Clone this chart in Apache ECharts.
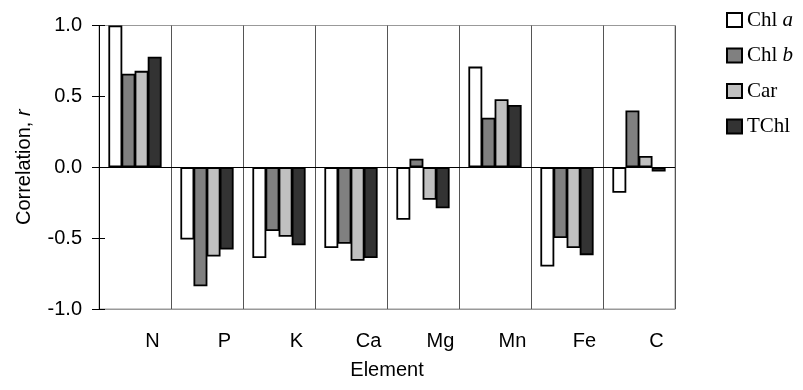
<!DOCTYPE html>
<html>
<head>
<meta charset="utf-8">
<script src="https://cdn.jsdelivr.net/npm/echarts@6/dist/echarts.min.js"></script>
<style>html,body{margin:0;padding:0;background:#fff;}#c{width:803px;height:390px;}</style>
</head>
<body>
<div id="c"></div>
<script>
const categories = ['N', 'P', 'K', 'Ca', 'Mg', 'Mn', 'Fe', 'C'];
const chlA = [1.00, -0.51, -0.64, -0.57, -0.37, 0.71, -0.70, -0.18];
const chlB = [0.66, -0.84, -0.45, -0.54, 0.06, 0.35, -0.50, 0.40];
const car  = [0.68, -0.63, -0.49, -0.66, -0.23, 0.48, -0.57, 0.08];
const tchl = [0.78, -0.58, -0.55, -0.64, -0.29, 0.44, -0.62, -0.03];
const yTicks = [-1.0, -0.5, 0.0, 0.5, 1.0];

const sans = 'Liberation Sans, Arial, sans-serif';
const serif = 'Liberation Serif, Times New Roman, serif';

const names = ['Chl a', 'Chl b', 'Car', 'TChl'];
const fills = ['#ffffff', '#808080', '#c0c0c0', '#333333'];
const dataSets = [chlA, chlB, car, tchl];

const chart = echarts.init(document.getElementById('c'), null, {renderer: 'canvas'});

const series = dataSets.map((d, i) => ({
  name: names[i],
  type: 'bar',
  data: d,
  barGap: '-6%',
  barCategoryGap: '26%',
  itemStyle: {color: fills[i], borderColor: '#000', borderWidth: 1.8},
  emphasis: {disabled: true},
  z: 3
}));
series[0].markLine = {
  silent: true,
  symbol: 'none',
  label: {show: false},
  lineStyle: {color: '#000', width: 1, type: 'solid'},
  data: [{yAxis: 0}],
  z: 5
};

chart.setOption({
  animation: false,
  backgroundColor: '#fff',
  grid: {left: 99, right: 128, top: 25.5, bottom: 81, show: true, borderColor: '#999', borderWidth: 1, backgroundColor: 'transparent'},
  legend: {
    orient: 'vertical',
    left: 726,
    top: 9,
    padding: 0,
    icon: 'rect',
    itemWidth: 15,
    itemHeight: 14,
    itemGap: 13.5,
    textStyle: {
      fontFamily: serif, fontSize: 21, color: '#000', lineHeight: 22,
      rich: {
        n: {fontFamily: serif, fontSize: 21, color: '#000'},
        i: {fontFamily: serif, fontSize: 21, fontStyle: 'italic', color: '#000'}
      }
    },
    formatter: function (name) {
      if (name === 'Chl a') return '{n|Chl }{i|a}';
      if (name === 'Chl b') return '{n|Chl }{i|b}';
      return '{n|' + name + '}';
    },
    data: names
  },
  xAxis: {
    type: 'category',
    data: categories,
    position: 'bottom',
    axisLine: {onZero: false, lineStyle: {color: '#999', width: 1}},
    axisTick: {show: false},
    splitLine: {show: true, interval: 0, lineStyle: {color: '#555', width: 1}},
    axisLabel: {interval: 0, fontFamily: sans, fontSize: 20, color: '#000', margin: 22, padding: [0, 0, 0, 35]},
    name: 'Element',
    nameLocation: 'middle',
    nameGap: 51,
    nameTextStyle: {fontFamily: sans, fontSize: 20, color: '#000'}
  },
  yAxis: [{
    type: 'value',
    min: -1, max: 1, interval: 0.5,
    axisLine: {show: true, lineStyle: {color: '#000', width: 1}},
    axisTick: {show: true, length: 7, lineStyle: {color: '#000', width: 1}},
    splitLine: {show: false},
    axisLabel: {fontFamily: sans, fontSize: 20, color: '#000', margin: 17,
      formatter: v => yTicks.indexOf(v) >= 0 ? v.toFixed(1) : ''},
    name: '{n|Correlation, }{i|r}',
    nameLocation: 'middle',
    nameGap: 65,
    nameRotate: 90,
    nameTextStyle: {fontFamily: sans, fontSize: 20, color: '#000',
      rich: {n: {fontFamily: sans, fontSize: 20, color: '#000'}, i: {fontFamily: sans, fontSize: 20, fontStyle: 'italic', color: '#000'}}}
  }, {
    type: 'value',
    position: 'left',
    min: -1, max: 1, interval: 0.5,
    axisLine: {show: false},
    axisTick: {show: true, inside: true, length: 6, lineStyle: {color: '#000', width: 1}},
    axisLabel: {show: false},
    splitLine: {show: false}
  }],
  series: series
});
</script>
</body>
</html>
